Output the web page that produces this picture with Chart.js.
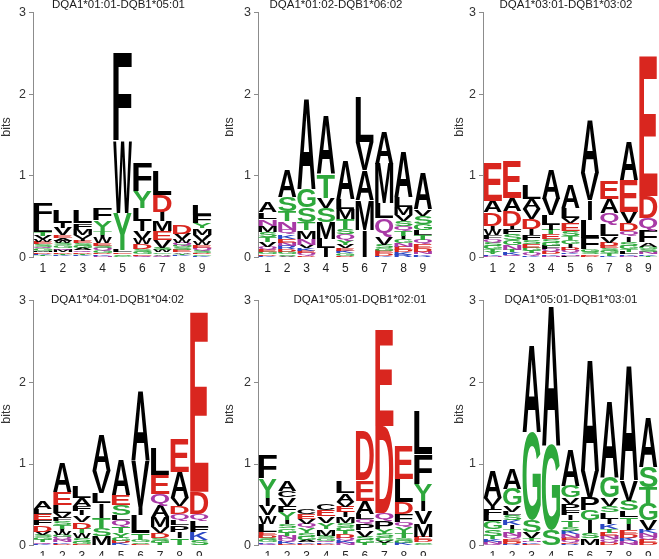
<!DOCTYPE html>
<html><head><meta charset="utf-8">
<script src="https://cdn.jsdelivr.net/npm/chart.js@4/dist/chart.umd.min.js"></script>
<style>
html,body{margin:0;padding:0;background:#fff;}
#wrap{position:relative;width:659px;height:559px;overflow:hidden;background:#fff;}
canvas{position:absolute;}
</style></head><body><div id="wrap">
<canvas id="c1"></canvas><canvas id="c2"></canvas><canvas id="c3"></canvas>
<canvas id="c4"></canvas><canvas id="c5"></canvas><canvas id="c6"></canvas>
</div>
<script>
const categories = ['1','2','3','4','5','6','7','8','9'];
const titles = ['DQA1*01:01-DQB1*05:01','DQA1*01:02-DQB1*06:02','DQA1*03:01-DQB1*03:02',
                'DQA1*04:01-DQB1*04:02','DQA1*05:01-DQB1*02:01','DQA1*05:01-DQB1*03:01'];
const axisTitle = 'bits';

// letters listed top -> bottom, heights in bits in the same order
const p1Letters = ['FLTVWESQGMDKTN','LIVEAWSGQMDTKN','LFMVIESGAQDTKN','FYTIWESQGDKN','FWYLESG','FYLIVWDSGEQ','LDIMEVSWGAQ','DVWQGSEATKN','LFYMVWEQSDGK'];
const p1Heights = [
  [.2,.14,.05,.04,.03,.03,.03,.025,.025,.02,.02,.015,.015,.01],
  [.15,.06,.09,.035,.03,.03,.03,.03,.025,.025,.02,.02,.015,.01],
  [.15,.07,.08,.04,.03,.03,.03,.03,.025,.02,.02,.02,.015,.01],
  [.14,.13,.05,.03,.07,.03,.03,.03,.025,.02,.02,.015],
  [1.09,.88,.45,.03,.02,.02,.02],
  [.35,.21,.16,.12,.09,.07,.06,.03,.03,.02,.02],
  [.29,.2,.12,.12,.11,.09,.03,.03,.02,.02,.02],
  [.11,.07,.04,.03,.03,.03,.025,.02,.02,.015,.01],
  [.12,.1,.06,.08,.08,.05,.03,.03,.03,.02,.02,.015]
];
const p2Letters = ['ALNMSTVQEGDK','ASTNQKENRDGSV','AGSTMNVKEQD','ATVSMLI','ALMTSQYVEKGD','LVAMI','AMLQVSGEDK','ALMVSQTIGNEDKR','AVSGLTQEDNKR'];
const p2Heights = [
  [.12,.08,.08,.08,.06,.06,.06,.03,.03,.03,.02,.02],
  [.34,.18,.12,.1,.06,.05,.05,.04,.04,.03,.03,.02,.02],
  [1.12,.23,.18,.1,.1,.08,.04,.03,.03,.03,.02],
  [.72,.29,.12,.18,.2,.12,.11],
  [.47,.12,.12,.12,.06,.08,.06,.04,.03,.03,.03,.02],
  [.55,.35,.37,.37,.33],
  [.39,.49,.18,.23,.1,.04,.03,.03,.03,.02],
  [.55,.12,.1,.07,.07,.06,.06,.04,.05,.04,.04,.03,.03,.03],
  [.44,.08,.1,.08,.06,.06,.05,.05,.04,.03,.02,.02]
];
const p3Letters = ['EADIWFQSGTYKN','EADIFSGNTKQ','LAVDIFSEGTQK','AVLITESGFQDKN','ALVESTGIDQKNF','AVILFGSED','EAQLVDESGTK','AEVDQISGTLKN','EDQFAGSNKT'];
const p3Heights = [
  [.47,.14,.16,.05,.07,.05,.04,.04,.04,.03,.03,.02,.02],
  [.45,.16,.18,.04,.06,.08,.06,.06,.03,.03,.03],
  [.17,.12,.12,.12,.08,.06,.05,.04,.04,.03,.03,.02],
  [.37,.2,.12,.06,.06,.06,.04,.04,.04,.03,.03,.02,.02],
  [.29,.12,.06,.1,.06,.05,.05,.04,.03,.03,.02,.02,.02],
  [.66,.33,.24,.22,.14,.03,.03,.02,.02],
  [.22,.17,.14,.14,.08,.04,.03,.03,.03,.03,.02],
  [.47,.39,.14,.1,.06,.07,.05,.04,.03,.03,.02,.02],
  [1.72,.27,.16,.14,.05,.03,.03,.03,.02,.02]
];
const p4Letters = ['ALEFDVSGTQK','AELVFSTIWGQNKD','LAFIVDTWSGE','AVLITSM','AESLQTYGDK','AVILTGSE','LEQAMVDSGT','EAVDQLPIT','EDQLFKS'];
const p4Heights = [
  [.1,.06,.08,.06,.08,.04,.03,.03,.03,.02,.02],
  [.37,.16,.1,.06,.04,.05,.04,.04,.04,.03,.03,.03,.02,.02],
  [.14,.1,.06,.06,.08,.08,.06,.06,.04,.03,.02],
  [.45,.27,.12,.18,.12,.1,.12],
  [.43,.12,.12,.06,.08,.08,.06,.04,.03,.03],
  [.86,.57,.1,.22,.08,.03,.02,.02],
  [.33,.24,.14,.14,.12,.08,.06,.03,.03,.03],
  [.41,.31,.1,.1,.08,.06,.08,.08,.09],
  [2.2,.27,.08,.08,.06,.1,.07]
];
const p5Letters = ['FYIVWLEDSGKQ','ACVFYISGTNQKE','CEVQYSGAKD','CEVYMSGQKD','LAVEIMSGTDQKN','DEALQPVSGT','EDQPYSGVT','ELDFQYTSGK','LFYIVMEDSG'];
const p5Heights = [
  [.29,.24,.1,.12,.1,.1,.04,.03,.03,.03,.02,.02],
  [.12,.08,.1,.08,.1,.05,.05,.05,.04,.04,.03,.03,.02],
  [.07,.06,.06,.06,.06,.04,.04,.03,.02,.02],
  [.08,.08,.08,.08,.08,.03,.03,.02,.02,.02],
  [.14,.1,.06,.07,.06,.07,.05,.05,.04,.04,.04,.03,.03],
  [.6,.25,.16,.06,.06,.08,.08,.04,.04,.03],
  [1.17,1.06,.1,.1,.06,.04,.04,.03,.03],
  [.41,.29,.14,.1,.06,.08,.06,.03,.03,.03],
  [.53,.37,.2,.12,.16,.16,.04,.03,.02,.02]
];
const p6Letters = ['AVIFLGSTKNQ','AGVLSKITNQEDR','AGSVTNKE','AGS','AGVPFITSKNEQDR','AVPGISM','AGVSLIKTENQD','AVSLTIEDKQN','ASTGVKNQED'];
const p6Heights = [
  [.33,.1,.05,.07,.07,.1,.08,.04,.03,.03,.02],
  [.25,.2,.08,.04,.06,.06,.04,.05,.04,.04,.03,.03,.02],
  [1.06,1.08,.14,.08,.03,.02,.02,.02],
  [1.72,1.04,.19],
  [.45,.14,.08,.08,.06,.06,.08,.05,.04,.04,.03,.03,.02,.02],
  [1.37,.33,.16,.12,.16,.06,.09],
  [.94,.25,.1,.08,.08,.06,.06,.05,.04,.04,.04,.04],
  [1.41,.25,.12,.08,.08,.08,.05,.04,.04,.03,.03],
  [.61,.25,.2,.2,.12,.04,.04,.04,.04,.03]
];

const GREEN = '#2ea83c', RED = '#d9261f', PURPLE = '#a83aa6', BLUE = '#2b47c4', BLACK = '#000000';
function colorOf(ch){
  if ('GSTY'.includes(ch)) return GREEN;
  if ('DE'.includes(ch)) return RED;
  if ('NQ'.includes(ch)) return PURPLE;
  if ('KRH'.includes(ch)) return BLUE;
  return BLACK;
}

const glyphCache = {};
function drawGlyph(ctx, ch, left, top, w, h, color){
  ctx.save();
  ctx.font = 'bold 100px "Liberation Sans", Arial, Helvetica, sans-serif';
  ctx.textAlign = 'left'; ctx.textBaseline = 'alphabetic';
  let m = glyphCache[ch];
  if (!m) { const t = ctx.measureText(ch); m = glyphCache[ch] = {l:t.actualBoundingBoxLeft, r:t.actualBoundingBoxRight, a:t.actualBoundingBoxAscent, d:t.actualBoundingBoxDescent}; }
  const gw = m.l + m.r, gh = m.a + m.d;
  ctx.translate(left, top);
  ctx.scale(w/gw, h/gh);
  ctx.fillStyle = color;
  ctx.fillText(ch, m.l, m.a);
  ctx.restore();
}

const letterPlugin = {
  id: 'logoLetters',
  afterDatasetsDraw(chart){
    const ctx = chart.ctx;
    chart.data.datasets.forEach((ds, d) => {
      const meta = chart.getDatasetMeta(d);
      meta.data.forEach((el, i) => {
        const ch = ds.letters[i];
        if (!ch || !ds.data[i]) return;
        const p = el.getProps(['x','y','base','width'], true);
        const top = Math.min(p.y, p.base), bot = Math.max(p.y, p.base);
        const h = bot - top;
        if (h < 0.4) return;
        let w = p.width * 0.94;
        if (ch === 'I') w = p.width * 0.22;
        drawGlyph(ctx, ch, p.x - w/2, top, w, h, colorOf(ch));
      });
    });
  }
};

function buildDatasets(letters, heights){
  const n = Math.max(...letters.map(s => s.length));
  const out = [];
  for (let k = 0; k < n; k++){
    const data = [], lets = [];
    letters.forEach((s, i) => {
      const idx = s.length - 1 - k;
      if (idx >= 0){ data.push(heights[i][idx]); lets.push(s[idx]); }
      else { data.push(0); lets.push(''); }
    });
    out.push({data, letters: lets, backgroundColor: 'rgba(0,0,0,0)', borderWidth: 0, barPercentage: 1, categoryPercentage: 1});
  }
  return out;
}

const panels = [
  {id:'c1', L:p1Letters, H:p1Heights, t:titles[0], left:0,   top:0,   w:220, h:280, pad:{top:12.7,right:8,bottom:4.7,left:0}, xh:18, tx:118.5, ty:5,  bx:7, by:127},
  {id:'c2', L:p2Letters, H:p2Heights, t:titles[1], left:225, top:0,   w:215, h:280, pad:{top:12.7,right:7.4,bottom:4.7,left:0}, xh:18, tx:111, ty:5, bx:5, by:127},
  {id:'c3', L:p3Letters, H:p3Heights, t:titles[2], left:450, top:0,   w:209, h:280, pad:{top:12.7,right:1,bottom:4.7,left:0}, xh:18, tx:116, ty:5, bx:10, by:127},
  {id:'c4', L:p4Letters, H:p4Heights, t:titles[3], left:0,   top:288, w:220, h:271, pad:{top:12.7,right:11,bottom:3.3,left:0}, xh:10, tx:117.5, ty:12, bx:7, by:126},
  {id:'c5', L:p5Letters, H:p5Heights, t:titles[4], left:225, top:288, w:215, h:271, pad:{top:12.7,right:7,bottom:3.3,left:0}, xh:10, tx:135, ty:12, bx:5, by:126},
  {id:'c6', L:p6Letters, H:p6Heights, t:titles[5], left:450, top:288, w:209, h:271, pad:{top:12.7,right:1,bottom:3.3,left:0}, xh:10, tx:121, ty:12, bx:10, by:126}
];

panels.forEach(P => {
  const cv = document.getElementById(P.id);
  cv.width = P.w; cv.height = P.h;
  cv.style.left = P.left + 'px'; cv.style.top = P.top + 'px';
  cv.style.width = P.w + 'px'; cv.style.height = P.h + 'px';
  const textPlugin = {
    id: 'panelText',
    afterDraw(chart){
      const ctx = chart.ctx;
      ctx.save();
      ctx.fillStyle = '#1a1a1a';
      ctx.font = '11.5px "Liberation Sans", Arial, sans-serif';
      ctx.textAlign = 'center'; ctx.textBaseline = 'middle';
      ctx.fillText(P.t, P.tx, P.ty);
      ctx.translate(P.bx, P.by); ctx.rotate(-Math.PI/2);
      ctx.fillStyle = '#333';
      ctx.font = '12.5px "Liberation Sans", Arial, sans-serif';
      ctx.fillText(axisTitle, 0, 0);
      ctx.restore();
    }
  };
  new Chart(cv, {
    type: 'bar',
    data: { labels: categories, datasets: buildDatasets(P.L, P.H) },
    options: {
      responsive: false, animation: false, devicePixelRatio: 1, events: [],
      layout: { padding: P.pad },
      plugins: { legend: {display:false}, tooltip: {enabled:false}, title: {display:false} },
      scales: {
        x: {
          stacked: true,
          grid: {display:false, drawTicks:false},
          border: {display:false},
          ticks: {color:'#222', font:{size:12, family:'"Liberation Sans", Arial, sans-serif'}, padding:4, maxRotation:0, autoSkip:false},
          afterFit: s => { s.height = P.xh; }
        },
        y: {
          stacked: true, min: 0, max: 3,
          ticks: {stepSize:1, color:'#333', font:{size:12.5, family:'"Liberation Sans", Arial, sans-serif'}, padding:3},
          grid: {display:true, drawOnChartArea:false, drawTicks:true, tickLength:4, color:'#8c8c8c'},
          border: {display:true, color:'#8c8c8c', width:1},
          afterFit: s => { s.width = 33; }
        }
      }
    },
    plugins: [letterPlugin, textPlugin]
  });
});
</script>
</body></html>
